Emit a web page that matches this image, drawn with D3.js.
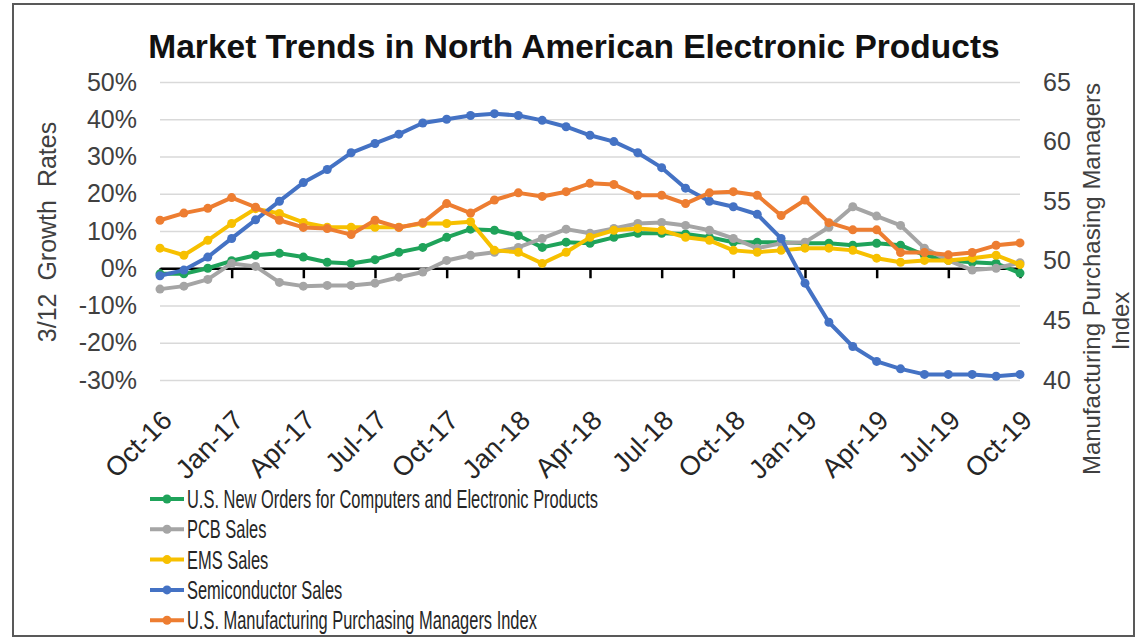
<!DOCTYPE html>
<html>
<head>
<meta charset="utf-8">
<script src="https://cdn.jsdelivr.net/npm/d3@7"></script>
<style>
  body { margin: 0; background: #fff; }
  svg { display: block; font-family: "Liberation Sans", Arial, sans-serif; }
</style>
</head>
<body>
<svg id="chart" width="1138" height="641"></svg>
<script>
// Monthly categories, Oct-16 .. Oct-19
const months = ["Oct-16","Nov-16","Dec-16","Jan-17","Feb-17","Mar-17","Apr-17","May-17","Jun-17",
    "Jul-17","Aug-17","Sep-17","Oct-17","Nov-17","Dec-17","Jan-18","Feb-18","Mar-18","Apr-18",
    "May-18","Jun-18","Jul-18","Aug-18","Sep-18","Oct-18","Nov-18","Dec-18","Jan-19","Feb-19",
    "Mar-19","Apr-19","May-19","Jun-19","Jul-19","Aug-19","Sep-19","Oct-19"];

const tickLabels = ["Oct-16","Jan-17","Apr-17","Jul-17","Oct-17","Jan-18","Apr-18",
    "Jul-18","Oct-18","Jan-19","Apr-19","Jul-19","Oct-19"];

const leftTicks = [50, 40, 30, 20, 10, 0, -10, -20, -30];
const rightTicks = [65, 60, 55, 50, 45, 40];

// 3/12 growth rates, percent (left axis)
const newOrders = [-1.5, -1.5, 0, 2, 3.5, 4, 3, 1.6, 1.3, 2.3, 4.3, 5.6, 8.3, 10.5, 10.2, 8.8, 5.6,
    7, 6.7, 8.3, 9.4, 9.4, 9.2, 8.3, 7, 7, 7, 6.7, 6.7, 6.2, 6.7, 6.2, 3.5, 2.1, 1.6, 1.3, -1.3];

const pcbSales = [-5.6, -4.8, -3, 1.3, 0.5, -3.8, -4.8, -4.6, -4.6, -4, -2.4, -1, 2.1, 3.5, 4.3, 5.6,
    8, 10.5, 9.4, 10.7, 12, 12.3, 11.5, 10.2, 8, 5.4, 6.7, 7, 11, 16.5, 14, 11.5, 5.4, 2.1, -0.5, 0, 1.5];

const emsSales = [5.4, 3.5, 7.5, 12, 16, 14.7, 12.3, 11, 11, 11, 11, 12, 12, 12.5, 4.8, 4.3, 1.3,
    4.3, 8.3, 10.2, 10.7, 10.2, 8.3, 7.5, 4.8, 4.3, 4.8, 5.4, 5.4, 4.8, 2.7, 1.6, 2.1, 2.1, 2.7, 3.5, 1];

const semiSales = [-2, -0.5, 3, 8, 13, 18, 23, 26.5, 31, 33.5, 36, 39, 40, 41, 41.5, 41, 39.7, 38,
    35.7, 34, 31, 27, 21.5, 18, 16.5, 14.5, 8, -4, -14.5, -21, -25, -27, -28.5, -28.5, -28.5, -29, -28.5];

// PMI (right axis)
const pmi = [53.4, 54.0, 54.4, 55.3, 54.5, 53.4, 52.8, 52.7, 52.2, 53.4, 52.8, 53.2, 54.8, 54.0,
    55.1, 55.7, 55.4, 55.8, 56.5, 56.4, 55.5, 55.5, 54.8, 55.7, 55.8, 55.5, 53.8, 55.1, 53.2, 52.6,
    52.6, 50.7, 50.7, 50.5, 50.7, 51.3, 51.5];

const series = [
    { name: "U.S. New Orders for Computers and Electronic Products", values: newOrders, color: "#1fa35a", axis: "left" },
    { name: "PCB Sales", values: pcbSales, color: "#a5a5a5", axis: "left" },
    { name: "EMS Sales", values: emsSales, color: "#f7c000", axis: "left" },
    { name: "Semiconductor Sales", values: semiSales, color: "#4472c4", axis: "left" },
    { name: "U.S. Manufacturing Purchasing Managers Index", values: pmi, color: "#ed7d31", axis: "right" }
];

const svg = d3.select("#chart");
const plotLeft = 160, plotRight = 1020, plotTop = 82, plotBottom = 380;

// outer frame
svg.append("rect")
    .attr("x", 13).attr("y", 4)
    .attr("width", 1121).attr("height", 632)
    .attr("fill", "#fff")
    .attr("stroke", "#595959")
    .attr("stroke-width", 2);

const x = d3.scalePoint().domain(months).range([plotLeft, plotRight]);
const yL = d3.scaleLinear().domain([-30, 50]).range([plotBottom, plotTop]);
const yR = d3.scaleLinear().domain([40, 65]).range([plotBottom, plotTop]);

// gridlines
svg.append("g")
    .attr("transform", "translate(" + plotLeft + ",0)")
    .call(d3.axisLeft(yL).tickValues(leftTicks).tickSize(-(plotRight - plotLeft)).tickFormat(""))
    .call(g => g.select(".domain").remove())
    .call(g => g.selectAll("line").attr("stroke", "#d9d9d9").attr("stroke-width", 1.5));

// left axis labels
svg.append("g")
    .attr("transform", "translate(" + plotLeft + ",0)")
    .call(d3.axisLeft(yL).tickValues(leftTicks).tickSize(0).tickPadding(23).tickFormat(d => d + "%"))
    .call(g => g.select(".domain").remove())
    .call(g => g.selectAll("text")
        .attr("font-size", 25)
        .attr("font-family", "Liberation Sans, Arial, sans-serif")
        .attr("fill", "#404040"));

// right axis labels
svg.append("g")
    .attr("transform", "translate(" + plotRight + ",0)")
    .call(d3.axisRight(yR).tickValues(rightTicks).tickSize(0).tickPadding(23))
    .call(g => g.select(".domain").remove())
    .call(g => g.selectAll("text")
        .attr("font-size", 25)
        .attr("font-family", "Liberation Sans, Arial, sans-serif")
        .attr("fill", "#404040"));

// zero line with quarterly ticks
svg.append("g")
    .attr("transform", "translate(0," + yL(0) + ")")
    .call(d3.axisBottom(x).tickValues(tickLabels).tickSize(10).tickSizeOuter(0).tickFormat(""))
    .call(g => g.select(".domain").attr("stroke", "#000").attr("stroke-width", 2.5))
    .call(g => g.selectAll(".tick line").attr("stroke", "#000").attr("stroke-width", 2.5));

// month labels at the bottom of the plot
svg.append("g")
    .attr("transform", "translate(0," + plotBottom + ")")
    .call(d3.axisBottom(x).tickValues(tickLabels).tickSize(0))
    .call(g => g.select(".domain").remove())
    .call(g => g.selectAll("text")
        .attr("x", 0).attr("y", 0).attr("dy", 0)
        .attr("text-anchor", "end")
        .attr("transform", "translate(13,42) rotate(-45)")
        .attr("font-size", 27)
        .attr("font-family", "Liberation Sans, Arial, sans-serif")
        .attr("fill", "#262626"));

// lines and markers
series.forEach(function(s) {
    const yScale = s.axis === "left" ? yL : yR;
    const line = d3.line()
        .x((d, i) => x(months[i]))
        .y(d => yScale(d));

    svg.append("path")
        .datum(s.values)
        .attr("d", line)
        .attr("fill", "none")
        .attr("stroke", s.color)
        .attr("stroke-width", 4)
        .attr("stroke-linejoin", "round");

    svg.append("g")
        .selectAll("circle")
        .data(s.values)
        .enter()
        .append("circle")
        .attr("cx", (d, i) => x(months[i]))
        .attr("cy", d => yScale(d))
        .attr("r", 4.5)
        .attr("fill", s.color);
});

// title
svg.append("text")
    .attr("x", 574).attr("y", 58)
    .attr("text-anchor", "middle")
    .attr("font-size", 33.5)
    .attr("font-weight", "bold")
    .attr("fill", "#111")
    .text("Market Trends in North American Electronic Products");

// axis titles
svg.append("text")
    .attr("transform", "translate(56,232) rotate(-90)")
    .attr("text-anchor", "middle")
    .attr("font-size", 25)
    .attr("fill", "#404040")
    .attr("word-spacing", 6)
    .text("3/12 Growth Rates");

svg.append("text")
    .attr("transform", "translate(1100,279) rotate(-90)")
    .attr("text-anchor", "middle")
    .attr("font-size", 24)
    .attr("fill", "#404040")
    .text("Manufacturing Purchasing Managers");

svg.append("text")
    .attr("transform", "translate(1129,321) rotate(-90)")
    .attr("text-anchor", "middle")
    .attr("font-size", 24)
    .attr("fill", "#404040")
    .text("Index");

// legend
const legend = svg.append("g").attr("transform", "translate(150,499)");
const legendItems = legend.selectAll("g")
    .data(series)
    .enter()
    .append("g")
    .attr("transform", (d, i) => "translate(0," + (i * 30.3) + ")");

legendItems.append("line")
    .attr("x1", 0).attr("x2", 34)
    .attr("stroke", d => d.color)
    .attr("stroke-width", 4);

legendItems.append("circle")
    .attr("cx", 17).attr("r", 4.5)
    .attr("fill", d => d.color);

const legendText = legendItems.append("text")
    .attr("x", 37).attr("y", 9)
    .attr("font-size", 26)
    .attr("font-family", "Liberation Sans Narrow, Arial Narrow, Liberation Sans, sans-serif")
    .attr("fill", "#262626")
    .text(d => d.name);

// legend text is condensed: scale so the first entry spans ~411px
const firstWidth = legendText.node().getComputedTextLength();
const squeeze = 411 / firstWidth;
legendText.each(function() {
    const w = this.getComputedTextLength();
    d3.select(this)
        .attr("textLength", w * squeeze)
        .attr("lengthAdjust", "spacingAndGlyphs");
});
</script>
</body>
</html>
